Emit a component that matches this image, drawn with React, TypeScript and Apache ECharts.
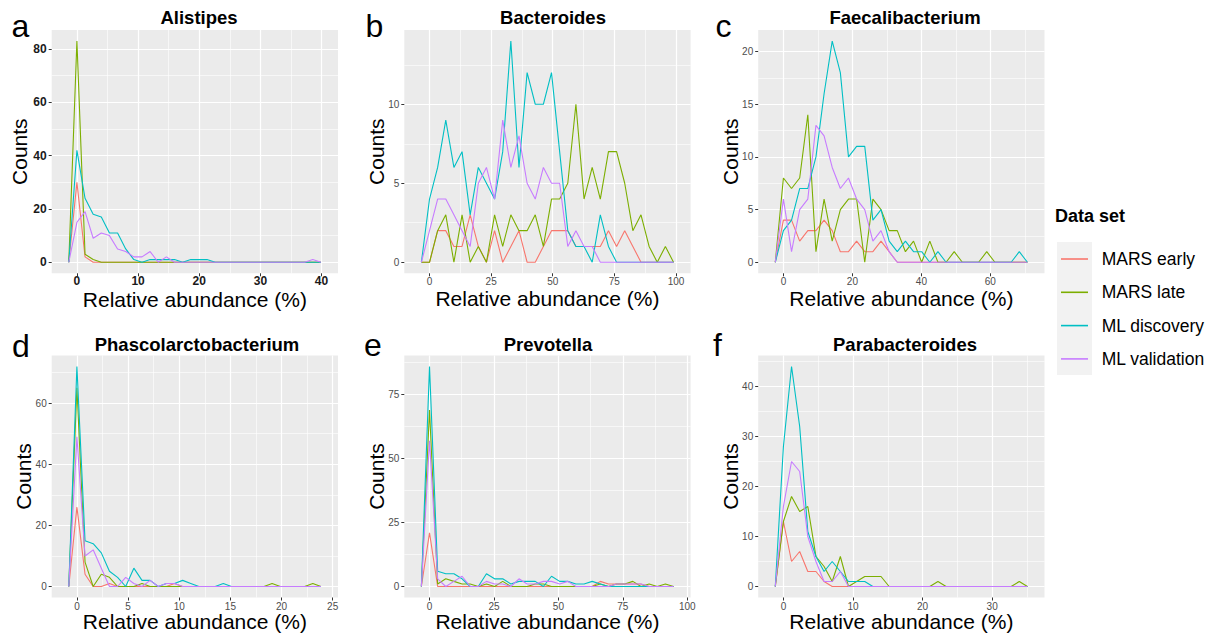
import React, { useEffect, useRef } from "react";
import * as echarts from "echarts";

const FONT = "'Liberation Sans', Arial, Helvetica, sans-serif";

const datasetNames = ["MARS early", "MARS late", "ML discovery", "ML validation"];
const datasetColors = ["#F8766D", "#7CAE00", "#00BFC4", "#C77CFF"];

const panelLetters = ["a", "b", "c", "d", "e", "f"];
const panelTitles = ["Alistipes", "Bacteroides", "Faecalibacterium", "Phascolarctobacterium", "Prevotella", "Parabacteroides"];
// bin width (relative abundance %) of each panel's frequency polygon
const binWidths = [1.33, 3.3, 2.358, 0.795, 3.155, 1.169];

const xMajorTicks = [[0, 10, 20, 30, 40], [0, 25, 50, 75, 100], [0, 20, 40, 60], [0, 5, 10, 15, 20, 25], [0, 25, 50, 75, 100], [0, 10, 20, 30]];
const xMinorTicks = [[5, 15, 25, 35], [12.5, 37.5, 62.5, 87.5], [10, 30, 50, 70], [2.5, 7.5, 12.5, 17.5, 22.5], [12.5, 37.5, 62.5, 87.5], [5, 15, 25, 35]];
const yMajorTicks = [[0, 20, 40, 60, 80], [0, 5, 10], [0, 5, 10, 15, 20], [0, 20, 40, 60], [0, 25, 50, 75], [0, 10, 20, 30, 40]];
const yMinorTicks = [[10, 30, 50, 70], [2.5, 7.5, 12.5], [2.5, 7.5, 12.5, 17.5], [10, 30, 50, 70], [12.5, 37.5, 62.5, 87.5], [5, 15, 25, 35, 45]];

// Counts per bin (first and last entries are the zero padding bins)
const alistipesEarly = [0, 30, 2, 0, 0, 0, 0, 0, 0, 0, 0, 0, 0, 0, 0, 0, 0, 0, 0, 0, 0, 0, 0, 0, 0, 0, 0, 0, 0, 0, 0, 0];
const alistipesLate = [0, 83, 3, 1, 0, 0, 0, 0, 0, 0, 0, 0, 0, 0, 0, 0, 0, 0, 0, 0, 0, 0, 0, 0, 0, 0, 0, 0, 0, 0, 0, 0];
const alistipesDiscovery = [0, 42, 24, 18, 17, 11, 11, 5, 1, 0, 1, 1, 1, 1, 0, 1, 1, 1, 0, 0, 0, 0, 0, 0, 0, 0, 0, 0, 0, 0, 0, 0];
const alistipesValidation = [0, 15, 19, 9, 11, 10, 5, 4, 2, 2, 4, 0, 2, 0, 0, 0, 0, 0, 0, 0, 0, 0, 0, 0, 0, 0, 0, 0, 0, 0, 1, 0];

const bacteroidesEarly = [0, 0, 2, 2, 1, 1, 3, 1, 0, 2, 0, 1, 2, 0, 0, 1, 2, 2, 2, 1, 1, 1, 1, 2, 1, 2, 1, 0, 0, 0, 0, 0];
const bacteroidesLate = [0, 0, 2, 3, 0, 3, 0, 1, 0, 3, 1, 3, 2, 2, 3, 1, 4, 4, 5, 10, 4, 6, 4, 7, 7, 5, 2, 3, 1, 0, 1, 0];
const bacteroidesDiscovery = [0, 4, 6, 9, 6, 7, 3, 6, 5, 4, 7, 14, 6, 12, 10, 10, 12, 7, 2, 1, 1, 0, 3, 1, 0, 0, 0, 0, 0, 0, 0, 0];
const bacteroidesValidation = [0, 2, 4, 4, 3, 2, 1, 5, 6, 4, 9, 6, 8, 5, 4, 6, 5, 5, 1, 2, 1, 1, 0, 0, 0, 0, 0, 0, 0, 0, 0, 0];

const faecaliEarly = [0, 4, 4, 2, 3, 3, 4, 3, 1, 1, 2, 1, 1, 2, 1, 0, 0, 0, 0, 0, 0, 0, 0, 0, 0, 0, 0, 0, 0, 0, 0, 0];
const faecaliLate = [0, 8, 7, 8, 14, 1, 6, 2, 5, 6, 6, 0, 6, 5, 3, 3, 1, 2, 0, 2, 0, 0, 1, 0, 0, 0, 1, 0, 0, 0, 0, 0];
const faecaliDiscovery = [0, 3, 4, 7, 7, 10, 16, 21, 18, 10, 11, 11, 4, 5, 2, 1, 2, 1, 1, 0, 1, 0, 0, 0, 0, 0, 0, 0, 0, 0, 1, 0];
const faecaliValidation = [0, 6, 1, 5, 6, 13, 12, 9, 7, 8, 6, 5, 2, 3, 1, 0, 0, 0, 0, 0, 0, 0, 0, 0, 0, 0, 0, 0, 0, 0, 0, 0];

const phascoEarly = [0, 26, 4, 0, 0, 1, 0, 0, 0, 0, 0, 0, 0, 1, 0, 0, 0, 0, 0, 0, 0, 0, 0, 0, 0, 0, 0, 0, 0, 0, 0, 0];
const phascoLate = [0, 65, 8, 0, 4, 3, 0, 0, 0, 1, 0, 0, 0, 0, 0, 0, 0, 0, 0, 0, 0, 0, 0, 0, 0, 1, 0, 0, 0, 0, 1, 0];
const phascoDiscovery = [0, 72, 15, 14, 11, 5, 3, 0, 6, 2, 2, 0, 1, 1, 2, 1, 0, 0, 0, 1, 0, 0, 0, 0, 0, 0, 0, 0, 0, 0, 0, 0];
const phascoValidation = [0, 49, 10, 12, 6, 0, 0, 3, 1, 0, 2, 0, 1, 1, 0, 0, 0, 0, 0, 0, 0, 0, 0, 0, 0, 0, 0, 0, 0, 0, 0, 0];

const prevotellaEarly = [0, 21, 0, 0, 0, 0, 0, 0, 0, 0, 0, 0, 0, 0, 0, 0, 0, 0, 0, 0, 0, 0, 2, 1, 1, 1, 1, 1, 0, 0, 0, 0];
const prevotellaLate = [0, 69, 1, 3, 2, 1, 1, 0, 1, 0, 2, 0, 0, 0, 1, 1, 0, 0, 0, 0, 0, 0, 1, 0, 1, 1, 2, 0, 1, 0, 1, 0];
const prevotellaDiscovery = [0, 86, 6, 5, 5, 3, 0, 0, 5, 3, 3, 1, 2, 2, 2, 0, 4, 2, 2, 1, 1, 2, 1, 0, 0, 0, 0, 0, 0, 0, 0, 0];
const prevotellaValidation = [0, 57, 3, 0, 2, 4, 0, 0, 2, 1, 1, 0, 3, 1, 1, 2, 2, 1, 2, 0, 0, 0, 0, 0, 1, 1, 1, 1, 0, 0, 0, 0];

const paraEarly = [0, 13, 5, 7, 3, 3, 1, 0, 0, 0, 0, 0, 0, 0, 0, 0, 0, 0, 0, 0, 0, 0, 0, 0, 0, 0, 0, 0, 0, 0, 0, 0];
const paraLate = [0, 13, 18, 15, 16, 6, 4, 1, 6, 0, 1, 2, 2, 2, 0, 0, 0, 0, 0, 0, 1, 0, 0, 0, 0, 0, 0, 0, 0, 0, 1, 0];
const paraDiscovery = [0, 28, 44, 32, 11, 6, 3, 5, 3, 1, 1, 1, 0, 0, 0, 0, 0, 0, 0, 0, 0, 0, 0, 0, 0, 0, 0, 0, 0, 0, 0, 0];
const paraValidation = [0, 16, 25, 23, 10, 5, 1, 1, 3, 0, 0, 0, 0, 0, 0, 0, 0, 0, 0, 0, 0, 0, 0, 0, 0, 0, 0, 0, 0, 0, 0, 0];

const panelCounts = [
  [alistipesEarly, alistipesLate, alistipesDiscovery, alistipesValidation],
  [bacteroidesEarly, bacteroidesLate, bacteroidesDiscovery, bacteroidesValidation],
  [faecaliEarly, faecaliLate, faecaliDiscovery, faecaliValidation],
  [phascoEarly, phascoLate, phascoDiscovery, phascoValidation],
  [prevotellaEarly, prevotellaLate, prevotellaDiscovery, prevotellaValidation],
  [paraEarly, paraLate, paraDiscovery, paraValidation],
];

// layout
const gridLefts = [51.7, 404.3, 758.2];
const gridTops = [30, 355.5];
const gridHeights = [243.3, 242];
const GRID_W = 286.3;
const titleX = [199, 553, 905, 197, 548, 905];
const titleY = [17, 17, 17, 344, 344, 344];
const letterX = [11.5, 365.5, 715.5, 12, 364, 713];
const letterY = [26, 26, 26, 346, 344.5, 344.5];

export default function App() {
  const ref = useRef<HTMLDivElement>(null);
  useEffect(() => {
    document.body.style.margin = "0";
    const chart = echarts.init(ref.current!, undefined, { renderer: "svg" });
    const grids: any[] = [];
    const xAxes: any[] = [];
    const yAxes: any[] = [];
    const series: any[] = [];
    const graphics: any[] = [];

    panelTitles.forEach((title, p) => {
      const col = p % 3;
      const row = Math.floor(p / 3);
      const w = binWidths[p];
      const counts = panelCounts[p];
      const maxCount = Math.max(...counts.map((c) => Math.max(...c)));
      const xMin = -3.1 * w;
      const xMax = 32.1 * w;
      const yMin = -0.05 * maxCount;
      const yMax = 1.05 * maxCount;
      grids.push({
        left: gridLefts[col], top: gridTops[row], width: GRID_W, height: gridHeights[row],
        show: true, backgroundColor: "#EBEBEB", borderWidth: 0, containLabel: false, outerBoundsMode: "none",
      });
      const bold = p === 0;
      const lab = {
        color: bold ? "#1A1A1A" : "#4D4D4D", fontSize: bold ? 12 : 10,
        fontWeight: bold ? "bold" : "normal", fontFamily: FONT,
      };
      const tick = { show: true, length: 3, inside: false, lineStyle: { color: "#333333", width: 1 } };
      xAxes.push({
        type: "value", gridIndex: p, min: xMin, max: xMax, position: "bottom",
        axisLine: { show: false, onZero: false },
        axisTick: { ...tick, customValues: xMajorTicks[p] },
        axisLabel: { ...lab, show: true, margin: bold ? 2.5 : 3.5, lineHeight: bold ? 11 : 10, customValues: xMajorTicks[p] },
        splitLine: { show: true, lineStyle: { color: "#FFFFFF", width: 1.2 } },
        name: "Relative abundance (%)", nameLocation: "middle", nameGap: bold ? 18 : row === 0 ? 17 : 16,
        nameTextStyle: { color: "#000000", fontSize: 21, fontFamily: FONT, lineHeight: 16 },
        nameMoveOverlap: false,
      });
      xAxes.push({
        type: "value", gridIndex: p, min: xMin, max: xMax, position: "top",
        axisLine: { show: false, onZero: false },
        axisTick: { show: false, customValues: xMinorTicks[p] },
        axisLabel: { show: false, customValues: xMinorTicks[p] },
        splitLine: { show: true, lineStyle: { color: "#FFFFFF", width: 0.6 } },
      });
      yAxes.push({
        type: "value", gridIndex: p, min: yMin, max: yMax, position: "left",
        axisLine: { show: false, onZero: false },
        axisTick: { ...tick, customValues: yMajorTicks[p] },
        axisLabel: { ...lab, show: true, margin: 5, customValues: yMajorTicks[p] },
        splitLine: { show: true, lineStyle: { color: "#FFFFFF", width: 1.2 } },
        name: "Counts", nameLocation: "middle", nameGap: bold ? 22 : 17.5,
        nameTextStyle: { color: "#000000", fontSize: 21, fontFamily: FONT },
        nameMoveOverlap: false,
      });
      yAxes.push({
        type: "value", gridIndex: p, min: yMin, max: yMax, position: "right",
        axisLine: { show: false, onZero: false },
        axisTick: { show: false, customValues: yMinorTicks[p] },
        axisLabel: { show: false, customValues: yMinorTicks[p] },
        splitLine: { show: true, lineStyle: { color: "#FFFFFF", width: 0.6 } },
      });
      counts.forEach((vals, s) => {
        series.push({
          type: "line", name: datasetNames[s], xAxisIndex: 2 * p, yAxisIndex: 2 * p,
          data: vals.map((v, k) => [(k - 1) * w, v]),
          showSymbol: false, symbol: "none", silent: true,
          lineStyle: { width: 1.1, color: datasetColors[s] },
          itemStyle: { color: datasetColors[s] },
        });
      });
      graphics.push({
        type: "text", x: titleX[p], y: titleY[p],
        style: { text: title, font: `bold 18.5px ${FONT}`, fill: "#000", textAlign: "center", textVerticalAlign: "middle" },
      });
      graphics.push({
        type: "text", x: letterX[p], y: letterY[p],
        style: { text: panelLetters[p], font: `32px ${FONT}`, fill: "#000", textAlign: "left", textVerticalAlign: "middle" },
      });
    });

    graphics.push({
      type: "rect", z: -1, shape: { x: 1057, y: 242, width: 35, height: 133 },
      style: { fill: "#F2F2F2" },
    });
    graphics.push({
      type: "text", x: 1055, y: 215.5,
      style: { text: "Data set", font: `bold 18px ${FONT}`, fill: "#000", textAlign: "left", textVerticalAlign: "middle" },
    });

    chart.setOption({
      animation: false,
      backgroundColor: "#FFFFFF",
      grid: grids,
      xAxis: xAxes,
      yAxis: yAxes,
      series,
      graphic: graphics,
      legend: {
        orient: "vertical", left: 1061, top: 249, padding: 0,
        data: datasetNames, icon: "rect", itemWidth: 27, itemHeight: 1.6, itemGap: 13.3,
        selectedMode: false,
        textStyle: { fontSize: 17.5, color: "#000", fontFamily: FONT, lineHeight: 20, padding: [0, 0, 0, 8.7] },
      },
    });
    return () => chart.dispose();
  }, []);
  return <div ref={ref} style={{ position: "absolute", left: 0, top: 0, width: 1216, height: 637, background: "#fff" }} />;
}
